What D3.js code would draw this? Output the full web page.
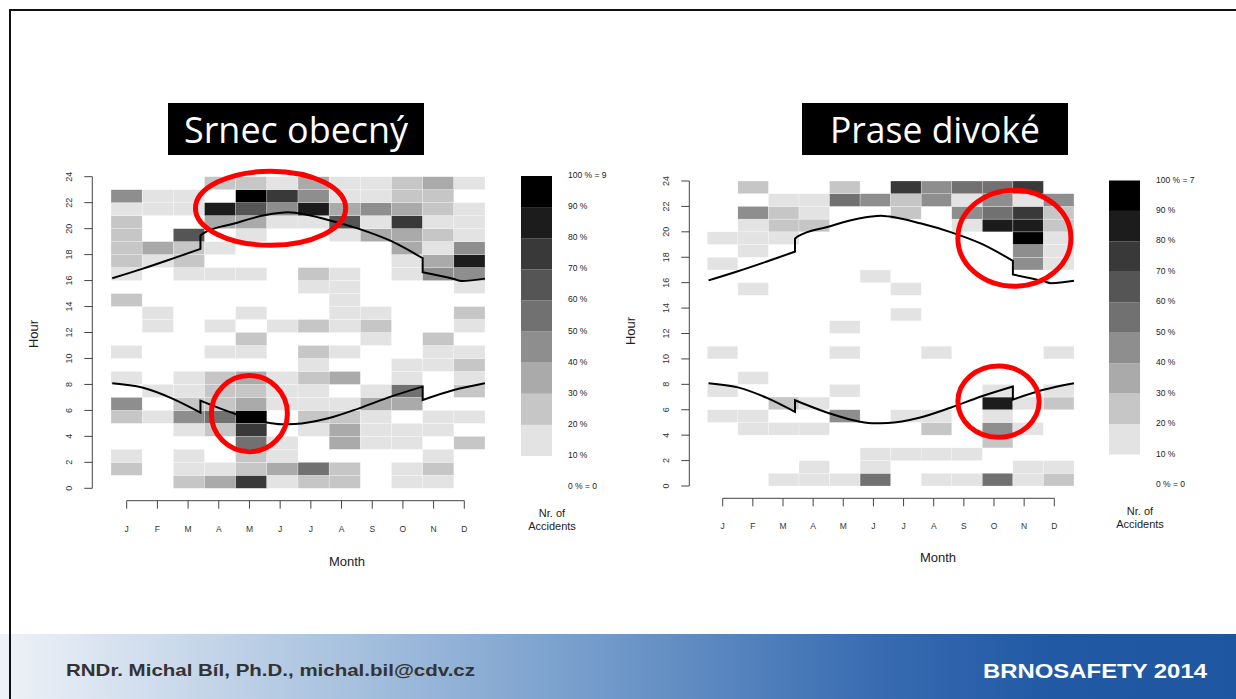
<!DOCTYPE html>
<html>
<head>
<meta charset="utf-8">
<script src="https://cdnjs.cloudflare.com/ajax/libs/d3/7.8.5/d3.min.js"></script>
<style>
 body { margin: 0; background: #fff; }
 text { font-family: "Liberation Sans", Arial, sans-serif; }
</style>
</head>
<body>
<div id="chart"></div>
<script>
var months = ["J","F","M","A","M","J","J","A","S","O","N","D"];
var hourTicks = [0,2,4,6,8,10,12,14,16,18,20,22,24];
var legendPercents = [100,90,80,70,60,50,40,30,20,10,0];
var legendLabelsRoe = ["100 % = 9","90 %","80 %","70 %","60 %","50 %","40 %","30 %","20 %","10 %","0 % = 0"];
var legendLabelsBoar = ["100 % = 7","90 %","80 %","70 %","60 %","50 %","40 %","30 %","20 %","10 %","0 % = 0"];

// accidents per hour of day (row 0 = 0-1 h ... row 23 = 23-24 h), Jan..Dec
var roeCounts = [
 [0,0,2,3,7,1,2,2,0,1,1,0],
 [2,0,1,1,2,3,5,2,0,1,2,0],
 [1,0,1,0,2,1,0,0,0,0,1,0],
 [0,0,0,0,5,1,0,3,1,1,0,2],
 [0,0,1,2,7,0,1,3,1,1,1,0],
 [2,1,4,5,9,0,2,2,1,0,1,1],
 [4,0,2,2,3,1,1,1,3,3,0,0],
 [0,1,1,2,2,1,1,0,1,5,0,2],
 [1,0,1,2,3,1,2,3,0,1,0,1],
 [0,0,0,0,0,0,1,0,0,1,1,2],
 [1,0,0,1,1,0,2,1,0,0,1,1],
 [0,0,0,0,2,0,0,0,1,0,2,0],
 [0,1,0,1,0,1,2,1,2,0,0,1],
 [0,1,0,0,1,0,0,1,1,0,0,2],
 [2,0,0,0,0,0,0,1,0,0,0,0],
 [0,0,0,0,0,0,1,1,0,0,0,1],
 [1,0,1,1,1,0,2,1,0,1,4,4],
 [2,1,2,0,0,0,0,0,0,1,3,8],
 [2,3,2,1,0,0,0,0,0,3,1,4],
 [2,0,6,0,1,0,0,1,3,3,2,1],
 [2,0,0,3,3,1,1,6,1,7,1,1],
 [1,1,1,8,6,4,8,3,4,3,2,1],
 [4,1,1,0,9,7,4,1,1,2,2,0],
 [0,0,0,2,2,1,3,1,1,2,3,1]
];
var boarCounts = [
 [0,0,1,1,1,4,0,1,1,4,1,2],
 [0,0,0,1,0,1,0,0,0,0,1,1],
 [0,0,0,0,0,1,1,1,1,0,0,0],
 [0,0,0,0,0,0,0,0,0,2,0,0],
 [0,1,1,1,0,0,0,2,0,3,1,0],
 [1,1,0,0,3,0,1,1,0,1,0,0],
 [0,0,2,1,0,0,0,0,0,6,1,2],
 [1,0,0,0,1,0,0,0,0,1,0,1],
 [0,1,0,0,0,0,0,0,0,0,0,0],
 [0,0,0,0,0,0,0,0,0,0,0,0],
 [1,0,0,0,1,0,0,1,0,0,0,1],
 [0,0,0,0,0,0,0,0,0,0,0,0],
 [0,0,0,0,1,0,0,0,0,0,0,0],
 [0,0,0,0,0,0,1,0,0,0,0,0],
 [0,0,0,0,0,0,0,0,0,0,0,0],
 [0,1,0,0,0,0,1,0,0,0,0,0],
 [0,0,0,0,0,1,0,0,0,0,0,0],
 [1,0,0,0,0,0,0,0,0,0,3,1],
 [0,1,0,0,0,0,0,0,0,0,3,1],
 [1,1,1,0,0,0,0,0,0,0,7,1],
 [0,1,2,2,0,0,0,0,1,6,6,2],
 [0,3,2,1,0,0,2,0,3,4,5,2],
 [0,0,1,1,4,3,2,3,1,3,1,3],
 [0,2,0,0,2,0,5,3,4,4,5,0]
];

// sunset / sunrise (month position, hour), split at the summer time changes
var sunsetSegments = [
 [[0.04,16.18],[1.0,16.9],[1.95,17.67],[2.87,18.44]],
 [[2.87,19.46],[2.96,19.64],[3.96,20.4],[4.96,21.05],[5.69,21.26],[5.96,21.2],[6.97,20.67],[7.96,19.98],[8.98,19.05],[10.0,17.72]],
 [[10.0,16.64],[11.0,16.12],[11.25,15.96],[12.0,16.15]]
];
var sunriseSegments = [
 [[0.04,8.09],[1.0,7.76],[1.95,6.93],[2.87,5.83]],
 [[2.87,6.75],[3.96,5.75],[4.96,5.08],[5.47,4.93],[5.9,4.95],[6.97,5.39],[7.96,6.16],[8.98,7.06],[10.0,7.83]],
 [[10.0,6.8],[11.0,7.57],[12.0,8.09]]
];

// highlighted regions: [month centre, hour centre, half width (months), half height (hours)]
var roeHighlights = [[5.12,21.57,2.41,2.85],[4.44,5.75,1.22,2.93]];
var boarHighlights = [[10.05,19.5,1.85,3.78],[9.53,6.64,1.33,2.8]];

var svg = d3.select("#chart").append("svg").attr("width", 1236).attr("height", 699);

// footer
var grad = svg.append("defs").append("linearGradient").attr("id", "foot").attr("x1", 0).attr("x2", 1).attr("y1", 0).attr("y2", 0);
[[0, "#eef2f8"], [0.3, "#a3bedd"], [0.5, "#6f98c9"], [0.7, "#3a6db2"], [0.85, "#2159a5"], [1, "#1f56a1"]].forEach(function(s){
  grad.append("stop").attr("offset", s[0]).attr("stop-color", s[1]);
});
svg.append("rect").attr("x", 0).attr("y", 634).attr("width", 1236).attr("height", 65).attr("fill", "url(#foot)");
svg.append("text").attr("x", 66).attr("y", 676).attr("font-size", 17).attr("font-weight", "bold")
  .attr("fill", "#333").attr("textLength", 409).attr("lengthAdjust", "spacingAndGlyphs")
  .text("RNDr. Michal Bíl, Ph.D., michal.bil@cdv.cz");
svg.append("text").attr("x", 983).attr("y", 678).attr("font-size", 21).attr("font-weight", "bold")
  .attr("fill", "#fff").attr("textLength", 224).attr("lengthAdjust", "spacingAndGlyphs")
  .text("BRNOSAFETY 2014");

// slide frame
svg.append("path").attr("d", "M10,699 L10,10 L1236,10").attr("fill", "none").attr("stroke", "#111").attr("stroke-width", 2);

var grays = d3.range(1, 10).map(function(l){ var v = Math.round(255 * (9 - l) / 9); return d3.rgb(v, v, v).toString(); });
var shade = d3.scaleThreshold().domain([20,30,40,50,60,70,80,90]).range(grays);

function panel(c) {
  var g = svg.append("g");
  var x = d3.scaleLinear().domain([0, 12]).range([c.cellX0, c.cellX1]);
  var y = d3.scaleLinear().domain([0, 24]).range([c.y0, c.y24]);
  var xm = d3.scaleLinear().domain([0, 11]).range([c.monthX0, c.monthX1]);

  // title box
  g.append("rect").attr("x", c.boxX).attr("y", 103).attr("width", c.boxW).attr("height", 52).attr("fill", "#000");
  g.append("text").attr("x", c.boxX + c.boxW / 2).attr("y", 143).attr("text-anchor", "middle")
    .style("font-family", "'Open Sans', sans-serif").attr("font-size", 37).attr("fill", "#fff")
    .attr("textLength", c.titleW).attr("lengthAdjust", "spacingAndGlyphs").text(c.title);

  // cells
  var cells = [];
  c.counts.forEach(function(row, h){
    row.forEach(function(n, m){ if (n > 0) cells.push({h: h, m: m, n: n}); });
  });
  g.selectAll(".cell").data(cells).enter().append("rect")
    .attr("x", function(d){ return x(d.m); })
    .attr("y", function(d){ return y(d.h + 1); })
    .attr("width", function(d){ return x(d.m + 1) - x(d.m); })
    .attr("height", function(d){ return y(d.h) - y(d.h + 1); })
    .attr("fill", function(d){ return shade(d.n / c.max * 100); })
    .attr("stroke", "#fff").attr("stroke-width", 0.5).attr("stroke-opacity", 0.5);

  // sun curves
  var line = d3.line().x(function(d){ return x(d[0]); }).y(function(d){ return y(d[1]); }).curve(d3.curveMonotoneX);
  [sunsetSegments, sunriseSegments].forEach(function(segs){
    var d = segs.map(function(s, i){ var p = line(s); return i ? "L" + p.slice(1) : p; }).join("");
    g.append("path").attr("d", d).attr("fill", "none").attr("stroke", "#000").attr("stroke-width", 2);
  });

  // y axis
  var yAxis = g.append("g").attr("stroke", "#444");
  yAxis.append("line").attr("x1", c.axisX).attr("x2", c.axisX).attr("y1", y(0)).attr("y2", y(24));
  yAxis.selectAll(".yt").data(hourTicks).enter().append("line")
    .attr("x1", c.axisX - 8).attr("x2", c.axisX).attr("y1", function(d){ return y(d); }).attr("y2", function(d){ return y(d); });
  g.selectAll(".yl").data(hourTicks).enter().append("text")
    .attr("transform", function(d){ return "translate(" + (c.axisX - 20) + "," + y(d) + ") rotate(-90)"; })
    .attr("text-anchor", "middle").attr("font-size", 9).attr("fill", "#333").text(function(d){ return d; });

  // month axis
  var xAxis = g.append("g").attr("stroke", "#444");
  xAxis.append("line").attr("x1", xm(0)).attr("x2", xm(11)).attr("y1", c.monthAxisY).attr("y2", c.monthAxisY);
  xAxis.selectAll(".xt").data(months).enter().append("line")
    .attr("x1", function(d, i){ return xm(i); }).attr("x2", function(d, i){ return xm(i); })
    .attr("y1", c.monthAxisY).attr("y2", c.monthAxisY + 8);
  g.selectAll(".xl").data(months).enter().append("text")
    .attr("x", function(d, i){ return xm(i); }).attr("y", c.monthAxisY + 31)
    .attr("text-anchor", "middle").attr("font-size", 8.5).attr("fill", "#333").text(function(d){ return d; });

  g.append("text").attr("transform", "translate(" + c.hourLabelX + "," + c.hourLabelY + ") rotate(-90)")
    .attr("text-anchor", "middle").attr("font-size", 13).attr("fill", "#222").text("Hour");
  g.append("text").attr("x", c.monthLabelX).attr("y", c.monthLabelY).attr("text-anchor", "middle")
    .attr("font-size", 13).attr("fill", "#222").text("Month");

  // legend
  var ly = d3.scaleLinear().domain([100, 10]).range([c.legY0, c.legY1]);
  g.selectAll(".lb").data(d3.range(1, 10)).enter().append("rect")
    .attr("x", c.legX).attr("width", 31)
    .attr("y", function(l){ return ly(l * 10 + 10); })
    .attr("height", function(l){ return ly(l * 10) - ly(l * 10 + 10); })
    .attr("fill", function(l){ return grays[l - 1]; });
  g.selectAll(".ll").data(legendPercents).enter().append("text")
    .attr("x", c.legX + 47).attr("y", function(p){ return ly(p) + 2; })
    .attr("font-size", 8.5).attr("fill", "#222")
    .text(function(p, i){ return c.legendLabels[i]; });
  g.append("text").attr("x", c.legX + 31).attr("y", c.nrY).attr("text-anchor", "middle")
    .attr("font-size", 11).attr("fill", "#222").text("Nr. of");
  g.append("text").attr("x", c.legX + 31).attr("y", c.nrY + 13).attr("text-anchor", "middle")
    .attr("font-size", 11).attr("fill", "#222").text("Accidents");

  // red highlights
  g.selectAll(".hl").data(c.highlights).enter().append("ellipse")
    .attr("cx", function(d){ return x(d[0]); }).attr("cy", function(d){ return y(d[1]); })
    .attr("rx", function(d){ return x(d[2]) - x(0); }).attr("ry", function(d){ return y(0) - y(d[3]); })
    .attr("fill", "none").attr("stroke", "#f00").attr("stroke-width", 5);
}

panel({
  title: "Srnec obecný", boxX: 168, boxW: 256, titleW: 224,
  counts: roeCounts, max: 9, highlights: roeHighlights, legendLabels: legendLabelsRoe,
  cellX0: 111, cellX1: 485, y0: 488.3, y24: 176.7, axisX: 92.3,
  monthX0: 126.7, monthX1: 464.3, monthAxisY: 500.7,
  hourLabelX: 38, hourLabelY: 334, monthLabelX: 347, monthLabelY: 566,
  legX: 521, legY0: 176, legY1: 456, nrY: 517
});
panel({
  title: "Prase divoké", boxX: 802, boxW: 266, titleW: 210,
  counts: boarCounts, max: 7, highlights: boarHighlights, legendLabels: legendLabelsBoar,
  cellX0: 707.3, cellX1: 1074, y0: 486, y24: 181, axisX: 689.3,
  monthX0: 722.7, monthX1: 1054.3, monthAxisY: 498.3,
  hourLabelX: 635, hourLabelY: 331, monthLabelX: 938, monthLabelY: 562,
  legX: 1109, legY0: 180.5, legY1: 454.5, nrY: 515
});
</script>
</body>
</html>
